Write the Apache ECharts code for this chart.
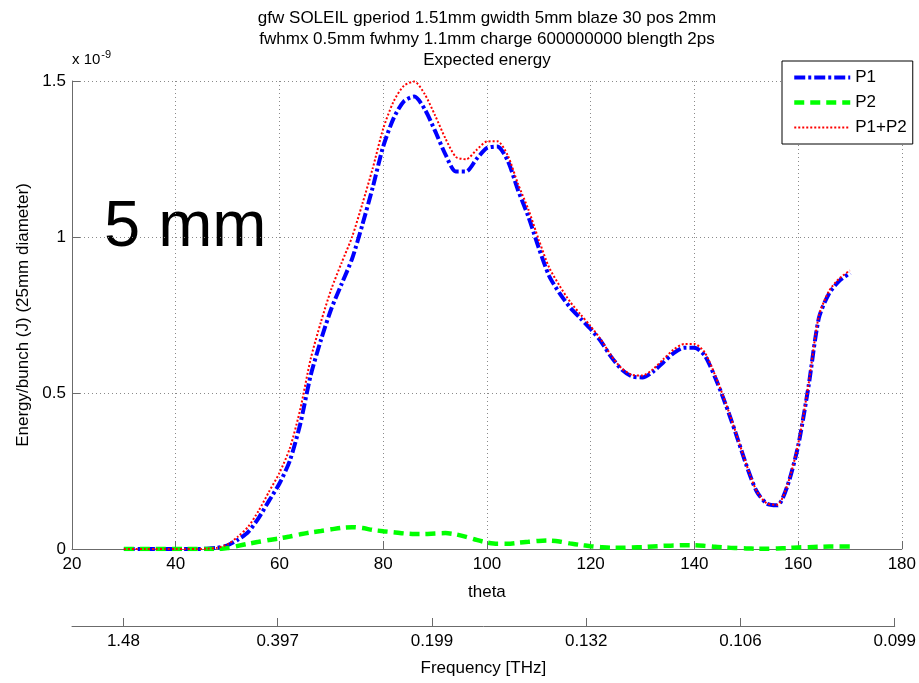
<!DOCTYPE html>
<html>
<head>
<meta charset="utf-8">
<title>Expected energy</title>
<script src="https://cdn.jsdelivr.net/npm/echarts@6/dist/echarts.min.js"></script>
<style>
  html, body { margin: 0; padding: 0; background: #ffffff; }
  #chart { width: 919px; height: 683px; }
</style>
</head>
<body>
<div id="chart"></div>
<script>
// Observation angle (degrees)
const theta = [30, 32, 34, 36, 38, 40, 42, 44, 46, 48, 50, 52, 54, 56, 58, 60, 62, 64, 66, 68,
  70, 72, 74, 76, 78, 80, 82, 84, 86, 88, 90, 92, 94, 96, 98, 100, 102, 104, 106, 108,
  110, 112, 114, 116, 118, 120, 122, 124, 126, 128, 130, 132, 134, 136, 138, 140, 142, 144, 146, 148,
  150, 152, 154, 156, 158, 160, 162, 164, 166, 168, 170];

// Energy per bunch, units of 1e-9 J
const p1 = [0, 0, 0, 0, 0, 0, 0, 0, 0.001, 0.004, 0.012, 0.03, 0.055, 0.1, 0.155, 0.21, 0.283, 0.4, 0.555, 0.67,
  0.77, 0.85, 0.93, 1.04, 1.16, 1.29, 1.38, 1.435, 1.45, 1.41, 1.34, 1.265, 1.21, 1.21, 1.25, 1.285, 1.29, 1.245, 1.15, 1.065,
  0.965, 0.875, 0.82, 0.775, 0.74, 0.705, 0.665, 0.615, 0.575, 0.553, 0.55, 0.568, 0.598, 0.628, 0.645, 0.645, 0.62, 0.55, 0.465, 0.37,
  0.27, 0.185, 0.145, 0.14, 0.205, 0.33, 0.52, 0.74, 0.82, 0.86, 0.885];

const p2 = [0, 0, 0, 0, 0, 0, 0, 0, 0, 0, 0.003, 0.01, 0.017, 0.023, 0.029, 0.034, 0.04, 0.047, 0.053, 0.058,
  0.063, 0.068, 0.07, 0.067, 0.061, 0.057, 0.054, 0.05, 0.048, 0.048, 0.05, 0.051, 0.047, 0.039, 0.029, 0.021, 0.017, 0.017, 0.02, 0.023,
  0.026, 0.027, 0.024, 0.018, 0.013, 0.009, 0.006, 0.004, 0.004, 0.005, 0.006, 0.008, 0.01, 0.011, 0.012, 0.012, 0.01, 0.007, 0.005, 0.003,
  0.002, 0.001, 0.001, 0.002, 0.003, 0.005, 0.006, 0.007, 0.008, 0.008, 0.008];

const p1p2 = [0, 0, 0, 0, 0, 0, 0, 0, 0.001, 0.004, 0.015, 0.04, 0.072, 0.123, 0.184, 0.244, 0.323, 0.447, 0.608, 0.728,
  0.833, 0.918, 1.0, 1.107, 1.221, 1.347, 1.434, 1.485, 1.498, 1.458, 1.39, 1.316, 1.257, 1.249, 1.279, 1.306, 1.307, 1.262, 1.17, 1.088,
  0.991, 0.902, 0.844, 0.793, 0.753, 0.714, 0.671, 0.619, 0.579, 0.558, 0.556, 0.576, 0.608, 0.639, 0.657, 0.657, 0.63, 0.557, 0.47, 0.373,
  0.272, 0.186, 0.146, 0.142, 0.208, 0.335, 0.526, 0.747, 0.828, 0.868, 0.893];

// Secondary axis: emitted frequency at selected angles
const freqTickTheta = [30, 60, 90, 120, 150, 180];
const freqTickLabels = ['1.48', '0.397', '0.199', '0.132', '0.106', '0.099'];

const titleLines = [
  'gfw SOLEIL gperiod 1.51mm gwidth 5mm blaze 30 pos 2mm',
  'fwhmx 0.5mm fwhmy 1.1mm charge 600000000 blength 2ps',
  'Expected energy'
];

const FONT = '"Liberation Sans", Arial, Helvetica, sans-serif';
const FS = 17;
const pairs = (xs, ys) => xs.map((x, i) => [x, ys[i]]);

const chart = echarts.init(document.getElementById('chart'), null, { renderer: 'canvas' });

const axisGray = '#6b6b6b';
const gridLine = { show: true, lineStyle: { color: '#8a8a8a', width: 1, type: [1, 3] } };

const styleP1 = { color: '#0000ff', width: 4, type: [11, 3, 3, 3], opacity: 1 };
const styleP2 = { color: '#00ff00', width: 4.5, type: [10, 6], opacity: 1 };
const styleSum = { color: '#ff0000', width: 2, type: [2, 2], opacity: 1 };
// legend samples show only the line, no marker
const noMarker = { opacity: 0 };

const option = {
  backgroundColor: '#ffffff',
  animation: false,
  textStyle: { fontFamily: FONT },
  grid: [
    { left: 72, right: 17, top: 81, bottom: 134, containLabel: false },
    { left: 72, right: 17, top: 616, height: 10, containLabel: false }
  ],
  xAxis: [
    {
      gridIndex: 0, type: 'value', min: 20, max: 180, interval: 20,
      name: 'theta', nameLocation: 'middle', nameGap: 35,
      nameTextStyle: { color: '#000', fontSize: FS, fontFamily: FONT },
      axisLine: { show: true, onZero: false, lineStyle: { color: axisGray, width: 1 } },
      axisTick: { show: true, inside: true, length: 8, lineStyle: { color: axisGray } },
      axisLabel: { color: '#000', fontSize: FS, margin: 7, fontFamily: FONT },
      splitLine: gridLine
    },
    {
      gridIndex: 1, type: 'value', min: 20, max: 180,
      name: 'Frequency [THz]', nameLocation: 'middle', nameGap: 34,
      nameTextStyle: { color: '#000', fontSize: FS, fontFamily: FONT },
      axisLine: { show: true, onZero: false, lineStyle: { color: axisGray, width: 1 } },
      axisTick: { show: true, inside: true, length: 8, customValues: freqTickTheta, lineStyle: { color: axisGray } },
      axisLabel: {
        color: '#000', fontSize: FS, margin: 7, fontFamily: FONT,
        customValues: freqTickTheta,
        formatter: v => freqTickLabels[freqTickTheta.indexOf(v)]
      },
      splitLine: { show: false }
    }
  ],
  yAxis: [
    {
      gridIndex: 0, type: 'value', min: 0, max: 1.5, interval: 0.5,
      name: 'Energy/bunch (J) (25mm diameter)', nameLocation: 'middle', nameGap: 40, nameRotate: 90,
      nameTextStyle: { color: '#000', fontSize: FS, fontFamily: FONT },
      axisLine: { show: true, onZero: false, lineStyle: { color: axisGray, width: 1 } },
      axisTick: { show: true, inside: true, length: 8, lineStyle: { color: axisGray } },
      axisLabel: { color: '#000', fontSize: FS, margin: 6, fontFamily: FONT },
      splitLine: gridLine
    },
    { gridIndex: 1, type: 'value', show: false, min: 0, max: 1 }
  ],
  legend: {
    orient: 'vertical',
    left: 782, top: 61,
    padding: [8, 6, 8, 10],
    itemWidth: 56, itemHeight: 16, itemGap: 8,
    backgroundColor: '#ffffff',
    borderColor: '#000000', borderWidth: 1, borderRadius: 0,
    textStyle: { color: '#000', fontSize: FS, fontFamily: FONT },
    itemStyle: noMarker,
    data: [
      { name: 'P1', itemStyle: noMarker, lineStyle: styleP1 },
      { name: 'P2', itemStyle: noMarker, lineStyle: styleP2 },
      { name: 'P1+P2', itemStyle: noMarker, lineStyle: styleSum }
    ]
  },
  series: [
    {
      name: 'P1', type: 'line', xAxisIndex: 0, yAxisIndex: 0,
      data: pairs(theta, p1), showSymbol: false, symbol: 'none', smooth: 0.25,
      lineStyle: styleP1, itemStyle: { color: '#0000ff' }, z: 2
    },
    {
      name: 'P2', type: 'line', xAxisIndex: 0, yAxisIndex: 0,
      data: pairs(theta, p2), showSymbol: false, symbol: 'none', smooth: 0.25,
      lineStyle: styleP2, itemStyle: { color: '#00ff00' }, z: 3
    },
    {
      name: 'P1+P2', type: 'line', xAxisIndex: 0, yAxisIndex: 0,
      data: pairs(theta, p1p2), showSymbol: false, symbol: 'none', smooth: 0.25,
      lineStyle: styleSum, itemStyle: { color: '#ff0000' }, z: 4
    }
  ],
  graphic: [
    ...titleLines.map((t, i) => ({
      type: 'text', x: 487, y: 18 + i * 21, silent: true,
      style: { text: t, font: FS + 'px ' + FONT, fill: '#000', textAlign: 'center', textVerticalAlign: 'middle' }
    })),
    {
      type: 'text', x: 72, y: 60, silent: true,
      style: {
        text: 'x 10{sup|-9}', font: '15px ' + FONT, fill: '#000',
        textAlign: 'left', textVerticalAlign: 'middle',
        rich: { sup: { fontSize: 11, fontFamily: FONT, padding: [0, 0, 11, 1], fill: '#000' } }
      }
    },
    {
      type: 'text', x: 104, y: 228, silent: true,
      style: { text: '5 mm', font: '65px ' + FONT, fill: '#000', textAlign: 'left', textVerticalAlign: 'middle' }
    }
  ]
};

chart.setOption(option);
</script>
</body>
</html>
